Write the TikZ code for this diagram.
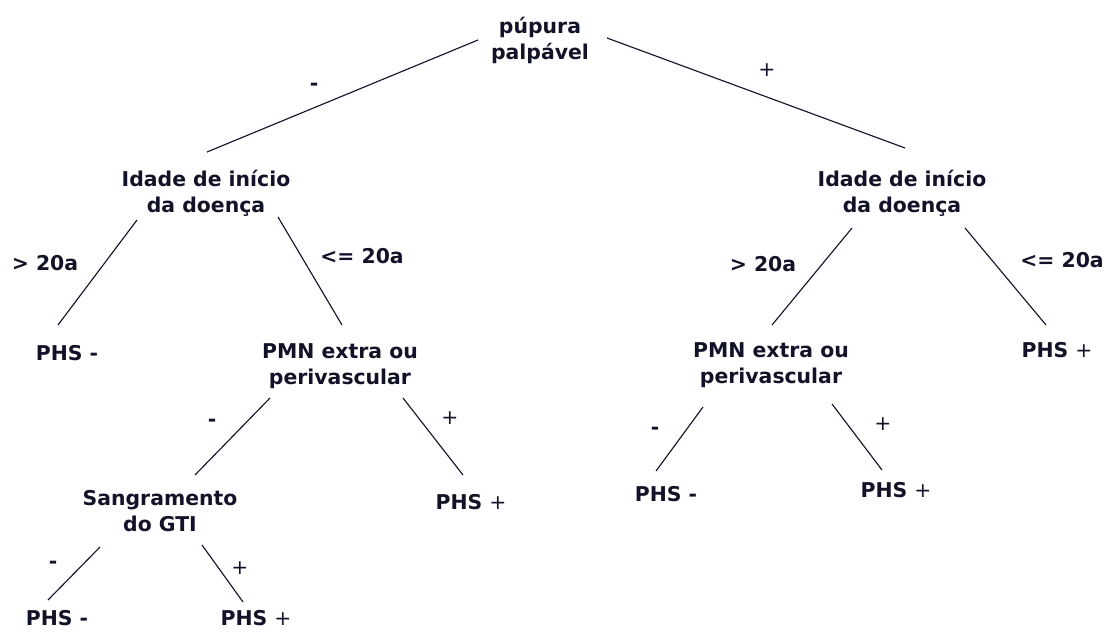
\documentclass[tikz,border=0pt]{standalone}
\usepackage{fontspec}
\setmainfont{DejaVu Sans}
\usetikzlibrary{calc}
\definecolor{ink}{RGB}{18,18,40}

\begin{document}
\begin{tikzpicture}[x=0.025cm,y=-0.025cm,
        every node/.style={font=\bfseries\fontsize{14.5}{18.5}\selectfont,text=ink},
        box/.style={align=center,inner sep=2pt},
        sign/.style={inner sep=1pt},
        edge/.style={draw=ink,line width=0.8pt}]
      \useasboundingbox (0,0) rectangle (1109,631);
      % tree nodes
      \node[box] (root) at (540,40)  {púpura\\palpável};
      \node[box] (idL)  at (206,193) {Idade de início\\da doença};
      \node[box] (idR)  at (902,193) {Idade de início\\da doença};
      \node[box] (phsA) at (67,353)  {PHS -};
      \node[box] (pmnL) at (340,366) {PMN extra ou\\perivascular};
      \node[box] (pmnR) at (771,365) {PMN extra ou\\perivascular};
      \node[box] (phsB) at (1057,350) {PHS {\mdseries +}};
      \node[box] (sang) at (160,511) {Sangramento\\do GTI};
      \node[box] (phsC) at (471,502) {PHS {\mdseries +}};
      \node[box] (phsD) at (666,494) {PHS -};
      \node[box] (phsE) at (896,490) {PHS {\mdseries +}};
      \node[box] (phsF) at (57,618)  {PHS -};
      \node[box] (phsG) at (256,618) {PHS {\mdseries +}};
      % branch labels
      \node[sign] (sRootM) at (314,87)  {-};
      \node[sign] (sRootP) at (767,70)  {\mdseries +};
      \node[sign] (sIdLa)  at (45,263)  {> 20a};
      \node[sign] (sIdLb)  at (362,256) {<= 20a};
      \node[sign] (sIdRa)  at (763,264) {> 20a};
      \node[sign] (sIdRb)  at (1062,260) {<= 20a};
      \node[sign] (sPmnLa) at (212,423) {-};
      \node[sign] (sPmnLb) at (450,418) {\mdseries +};
      \node[sign] (sPmnRa) at (655,431) {-};
      \node[sign] (sPmnRb) at (883,424) {\mdseries +};
      \node[sign] (sSangA) at (53,565)  {-};
      \node[sign] (sSangB) at (240,568) {\mdseries +};
      % branches
      \draw[edge] ($(root)+(-62,0)$) -- ($(idL)+(1,-41)$);
      \draw[edge] ($(root)+(67,-2)$) -- ($(idR)+(3,-45)$);
      \draw[edge] ($(idL)+(-69,27)$) -- ($(phsA)+(-9,-28)$);
      \draw[edge] ($(idL)+(72,24)$) -- ($(pmnL)+(2,-41)$);
      \draw[edge] ($(idR)+(-50,35)$) -- ($(pmnR)+(1,-40)$);
      \draw[edge] ($(idR)+(63,35)$) -- ($(phsB)+(-11,-25)$);
      \draw[edge] ($(pmnL)+(-70,32)$) -- ($(sang)+(35,-36)$);
      \draw[edge] ($(pmnL)+(63,32)$) -- ($(phsC)+(-8,-27)$);
      \draw[edge] ($(pmnR)+(-68,42)$) -- ($(phsD)+(-10,-23)$);
      \draw[edge] ($(pmnR)+(61,39)$) -- ($(phsE)+(-14,-20)$);
      \draw[edge] ($(sang)+(-60,36)$) -- ($(phsF)+(-9,-18)$);
      \draw[edge] ($(sang)+(42,34)$) -- ($(phsG)+(-13,-16)$);
\end{tikzpicture}
\end{document}
